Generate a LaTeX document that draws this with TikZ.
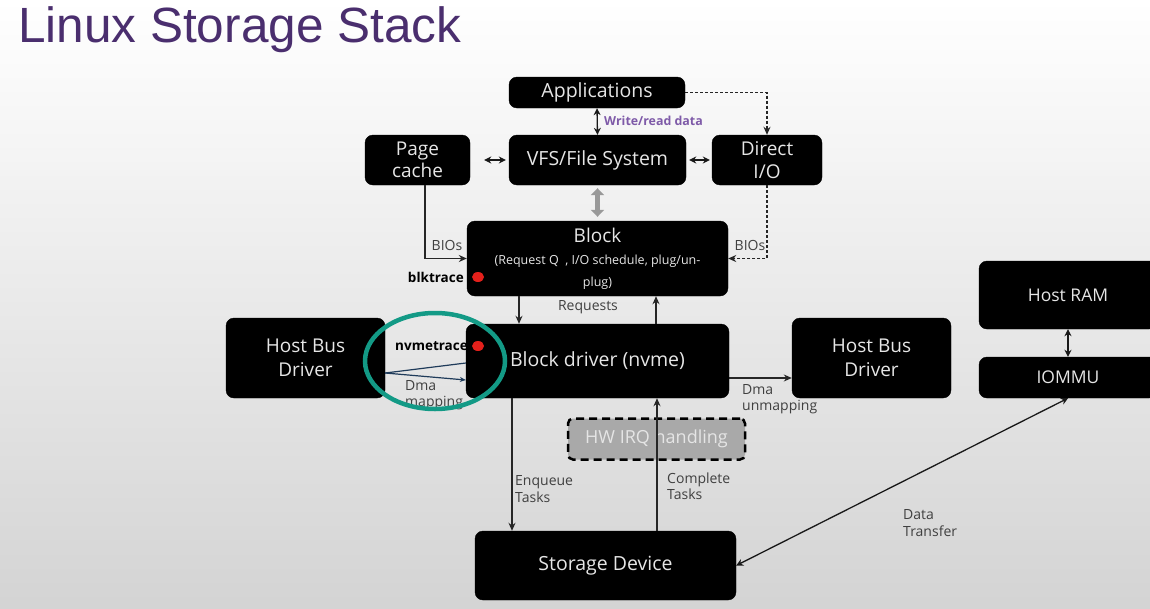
\documentclass[tikz,border=0pt]{standalone}
\usepackage{fontspec}
\setmainfont{Open Sans}
\newfontfamily\titlefont{Liberation Sans}
\usetikzlibrary{arrows.meta,calc}
\definecolor{titlepurple}{HTML}{4A2E6E}
\definecolor{wrpurple}{HTML}{7E5AA8}
\definecolor{lblgray}{HTML}{404040}
\definecolor{boxtext}{HTML}{E6E6E6}
\definecolor{tealring}{HTML}{139A86}
\definecolor{navy}{HTML}{1F3B5A}
\definecolor{dotred}{HTML}{E3201B}
\definecolor{irqfill}{HTML}{A9A9A9}
\begin{document}
\begin{tikzpicture}[x=1pt,y=-1pt,
  box/.style={draw=black, fill=black, rounded corners=8pt, text=boxtext, align=center, inner sep=2pt, font=\fontsize{19.5}{22}\selectfont},
  lbl/.style={text=lblgray, font=\fontsize{14}{16.5}\selectfont, align=left, inner sep=0pt},
  blbl/.style={text=black, font=\bfseries\fontsize{13.5}{15}\selectfont, inner sep=0pt},
  arr/.style={-{Stealth[length=8pt,width=7pt]}, line width=1.3pt, draw=black!85},
  darr/.style={{Stealth[length=7pt,width=7pt]}-{Stealth[length=7pt,width=7pt]}, line width=1.3pt, draw=black!90},
  dsh/.style={dash pattern=on 3pt off 2pt, line width=1.3pt, draw=black!85}
]
\useasboundingbox (0,0) rectangle (1150,608);
\shade[top color=white, middle color=white, bottom color=black!17] (0,0) rectangle (1150,608);

% title
\node[anchor=west, text=titlepurple, font=\titlefont\fontsize{49.5}{55}\selectfont, inner sep=0pt] (title) at (18,30) {Linux Storage Stack};

% boxes
\node[box, minimum width=176pt, minimum height=31pt] (app) at (597,92.5) {Applications};
\node[box, minimum width=177pt, minimum height=50pt] (vfs) at (597.5,160) {VFS/File System};
\node[box, minimum width=105pt, minimum height=50pt, font=\fontsize{19}{22.5}\selectfont] (pc) at (417.5,160) {Page\\cache};
\node[box, minimum width=110pt, minimum height=50pt, font=\fontsize{19}{22.5}\selectfont] (dio) at (767,160) {Direct\\I/O};
\node[box, minimum width=261pt, minimum height=75pt] (blk) at (597.5,258.5)
  {{\fontsize{19}{21}\selectfont Block}\\[0pt]{\fontsize{12.5}{16}\selectfont (Request Q\ \ , I/O schedule, plug/un-}\\{\fontsize{12.5}{14}\selectfont plug)}};
\node[box, minimum width=159pt, minimum height=80pt, font=\fontsize{19}{24}\selectfont] (hbdl) at (305.5,358) {Host Bus\\Driver};
\node[box, minimum width=263pt, minimum height=74pt] (bd) at (597.5,361) {Block driver (nvme)};
\node[box, minimum width=159pt, minimum height=80pt, font=\fontsize{19}{24}\selectfont] (hbdr) at (871.5,358) {Host Bus\\Driver};
\node[box, minimum width=178pt, minimum height=68pt, font=\fontsize{17.5}{20}\selectfont] (ram) at (1068,295) {Host RAM};
\node[box, minimum width=178pt, minimum height=41pt, font=\fontsize{17.5}{20}\selectfont] (iommu) at (1068,377.5) {IOMMU};
\node[draw=black, fill=irqfill, rounded corners=5pt, line width=2.5pt, dash pattern=on 8pt off 5pt, text=black!10, font=\fontsize{18}{20}\selectfont, minimum width=177pt, minimum height=41pt] (irq) at (656.5,439) {HW IRQ handling};
\node[box, minimum width=261pt, minimum height=69pt] (sd) at (605.5,565.5) {Storage Device};

% top connectors
\draw[darr] (app.south) -- (vfs.north);
\node[anchor=west, text=wrpurple, font=\bfseries\fontsize{12.4}{14}\selectfont, inner sep=0pt] (wr) at (604,121) {Write/read data};
\draw[dsh, -{Stealth[length=8pt,width=7pt]}] (app.east) -| (dio.north);
\draw[darr, shorten <=14pt, shorten >=3pt] (pc.east) -- (vfs.west);
\draw[darr, shorten <=3pt, shorten >=2pt] (vfs.east) -- (dio.west);
\draw[black!40, line width=5pt, {Triangle[width=13pt,length=7pt]}-{Triangle[width=13pt,length=7pt]}]
  ([yshift=-3pt]vfs.south) -- ([yshift=4pt]blk.north);

% BIOs
\draw[arr] ([xshift=7.5pt]pc.south) |- (blk.west);
\node[lbl] (bios1) at (447,245) {BIOs};
\draw[dsh, -{Stealth[length=8pt,width=7pt]}] (dio.south) |- (blk.east);
\node[lbl] (bios2) at (750,245) {BIOs};

% blktrace
\node[blbl, anchor=east] (blkt) at (464,277) {blktrace};
\fill[dotred] (478,277) ellipse (6pt and 5pt);

% requests
\draw[arr] ([xshift=-78.5pt]blk.south) -- ([xshift=-78.5pt]bd.north);
\draw[arr] ([xshift=58.5pt]bd.north) -- ([xshift=58.5pt]blk.south);
\node[lbl] (req) at (588,307) {Requests};

% nvmetrace and dma mapping
\node[blbl, anchor=east] (nvt) at (468,346) {nvmetrace};
\fill[dotred] (478,346) ellipse (6pt and 5pt);
\draw[navy, line width=1.2pt] ([yshift=-15pt]hbdl.east) -- ([yshift=-2pt]bd.west);
\draw[navy, line width=1.2pt, -{Stealth[length=6pt,width=5pt]}] ([yshift=-15pt]hbdl.east) -- ([yshift=-19pt]bd.west);
\node[lbl, anchor=west] (dmam) at (405,395) {Dma\\mapping};

% dma unmapping
\draw[arr] ([yshift=-17pt]bd.east) -- ([yshift=-17pt]bd.east -| hbdr.west);
\node[lbl, anchor=west] (dmau) at (742,399) {Dma\\unmapping};

% tasks
\draw[arr] ([xshift=-85.5pt]bd.south) -- ([xshift=-85.5pt]bd.south |- sd.north);
\node[lbl, anchor=west] (enq) at (515,489) {Enqueue\\Tasks};
\draw[arr] ([xshift=51.5pt]sd.north) -- ([xshift=51.5pt]sd.north |- bd.south);
\node[lbl, anchor=west] (cmp) at (667,486) {Complete\\Tasks};

% ram / iommu / data transfer
\draw[darr] (ram.south) -- (iommu.north);
\draw[darr] (iommu.south) -- (sd.east);
\node[lbl, anchor=west] (dt) at (903,523) {Data\\Transfer};

% teal ring
\draw[tealring, line width=4.5pt] (435,361) ellipse (70pt and 48pt);
\end{tikzpicture}
\end{document}
